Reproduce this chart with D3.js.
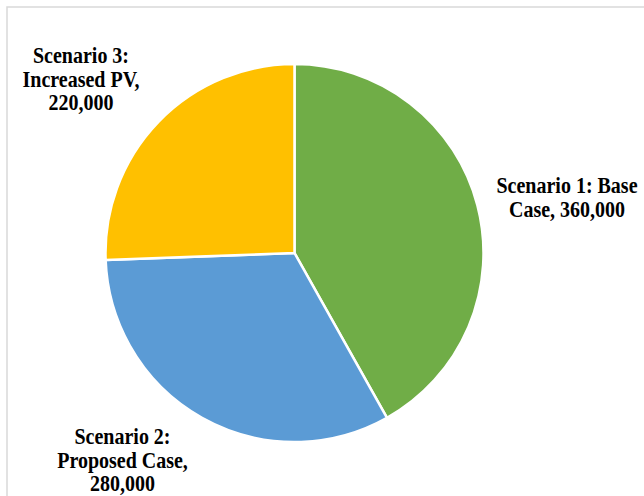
<!DOCTYPE html>
<html>
<head>
<meta charset="utf-8">
<script src="https://cdn.jsdelivr.net/npm/d3@7"></script>
<style>
  html, body { margin: 0; padding: 0; background: #fff; }
  svg { display: block; }
</style>
</head>
<body>
<svg id="chart" width="644" height="496"></svg>
<script>
// Scenario totals
const categories = ["Scenario 1: Base Case", "Scenario 2: Proposed Case", "Scenario 3: Increased PV"];
const values = [360000, 280000, 220000];
const colors = ["#70AD47", "#5B9BD5", "#FFC000"];
// Label lines drawn beside each slice
const labelLines = [
  ["Scenario 1: Base", "Case, 360,000"],
  ["Scenario 2:", "Proposed Case,", "280,000"],
  ["Scenario 3:", "Increased PV,", "220,000"]
];
const labelPos = [[567, 193], [122.5, 444], [81, 63]];

const svg = d3.select("#chart");

// Chart area frame
svg.append("rect")
  .attr("x", 7).attr("y", 7)
  .attr("width", 700).attr("height", 600)
  .attr("fill", "none")
  .attr("stroke", "#d9d9d9")
  .attr("stroke-width", 1.5);

const cx = 294.5, cy = 253, r = 189;
const data = categories.map((c, i) => ({ name: c, value: values[i] }));

const pie = d3.pie().value(d => d.value).sort(null);
const arc = d3.arc().innerRadius(0).outerRadius(r);
const color = d3.scaleOrdinal().domain(categories).range(colors);

const g = svg.append("g").attr("transform", `translate(${cx},${cy})`);
g.selectAll("path")
  .data(pie(data))
  .join("path")
  .attr("d", arc)
  .attr("fill", d => color(d.data.name))
  .attr("stroke", "#fff")
  .attr("stroke-width", 2.5)
  .attr("stroke-linejoin", "round");

// Data labels (slightly tall serif glyphs)
const lineHeight = 23.7;
const stretch = 1.12;
labelLines.forEach((lines, i) => {
  const [lx, ly] = labelPos[i];
  const t = svg.append("text")
    .attr("transform", `translate(${lx},${ly}) scale(1,${stretch})`)
    .attr("text-anchor", "middle")
    .attr("font-family", "'Liberation Serif', 'Times New Roman', serif")
    .attr("font-weight", "bold")
    .attr("font-size", 20)
    .attr("fill", "#000");
  lines.forEach((ln, j) => {
    t.append("tspan")
      .attr("x", 0)
      .attr("y", j * lineHeight / stretch)
      .text(ln);
  });
});
</script>
</body>
</html>
